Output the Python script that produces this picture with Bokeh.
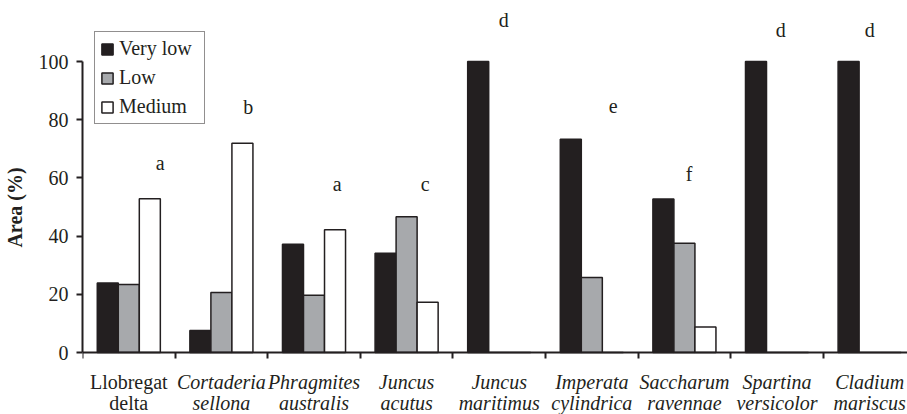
from bokeh.plotting import figure
from bokeh.models import (ColumnDataSource, FixedTicker, Legend, LegendItem,
                          Range1d, LinearAxis)
from bokeh.core.properties import value
from bokeh.embed import file_html
from bokeh.resources import INLINE

# ---- data ----
line1 = ["Llobregat", "Cortaderia", "Phragmites", "Juncus", "Juncus",
         "Imperata", "Saccharum", "Spartina", "Cladium"]
line2 = ["delta", "sellona", "australis", "acutus", "maritimus",
         "cylindrica", "ravennae", "versicolor", "mariscus"]
label_style = ["normal", "italic", "italic", "italic", "italic",
               "italic", "italic", "italic", "italic"]
very_low = [23.9, 7.6, 37.2, 34.1, 100, 73.3, 52.8, 100, 100]
low = [23.4, 20.6, 19.7, 46.7, 0, 25.8, 37.6, 0, 0]
medium = [52.9, 71.9, 42.2, 17.3, 0, 0, 8.8, 0, 0]
letters = ["a", "b", "a", "c", "d", "e", "f", "d", "d"]
letter_y = [62.9, 82.1, 55.5, 55.5, 112.0, 82.2, 59.0, 108.3, 108.3]
letter_dx = [0.34, 0.29, 0.25, 0.20, 0.05, 0.23, 0.05, 0.04, 0.0]
yticks = [0, 20, 40, 60, 80, 100]
series_names = ["Very low", "Low", "Medium"]

FONT = value("Liberation Serif")
FS = "20px"
INK = "#231f20"
GRAY = "#a7a9ac"
TXT_SHIFT = 2.4  # compensates the text glyph baseline rendering offset

n = len(line1)
centers = [i + 0.5 for i in range(n)]
bw = 0.227

p = figure(width=907, height=414, output_backend="svg", toolbar_location=None,
           x_range=Range1d(0, 8.909), y_range=Range1d(-21.3, 121.0),
           x_axis_location=None,
           min_border_left=82, min_border_right=0, min_border_top=0,
           min_border_bottom=0)
p.outline_line_color = None
p.xgrid.visible = False
p.ygrid.visible = False
p.background_fill_color = "white"

src = ColumnDataSource(dict(
    x_vl=[c - bw for c in centers], x_l=centers, x_m=[c + bw for c in centers],
    vl=very_low, l=low, m=medium))

r1 = p.vbar(x="x_vl", top="vl", width=bw, source=src, fill_color=INK,
            line_color=INK, line_width=1.5)
r2 = p.vbar(x="x_l", top="l", width=bw, source=src, fill_color=GRAY,
            line_color=INK, line_width=1.5)
r3 = p.vbar(x="x_m", top="m", width=bw, source=src, fill_color="white",
            line_color=INK, line_width=1.5)

# significance letters
lsrc = ColumnDataSource(dict(x=[c + d for c, d in zip(centers, letter_dx)],
                             y=[v + TXT_SHIFT for v in letter_y], t=letters))
p.text(x="x", y="y", text="t", source=lsrc, text_font=FONT,
       text_font_size=FS, text_color=INK, text_align="center",
       text_baseline="alphabetic")

# category labels (two lines; species names in italic)
csrc = ColumnDataSource(dict(x=centers, y1=[-12.7 + TXT_SHIFT] * n,
                             y2=[-19.6 + TXT_SHIFT] * n,
                             t1=line1, t2=line2, st=label_style))
for yk, tk in (("y1", "t1"), ("y2", "t2")):
    p.text(x="x", y=yk, text=tk, source=csrc, text_font=FONT,
           text_font_size=FS, text_font_style="st", text_color=INK,
           text_align="center", text_baseline="alphabetic")

# x axis at y = 0 with ticks between categories
xa = LinearAxis(fixed_location=0)
xa.ticker = FixedTicker(ticks=list(range(n)))
xa.major_label_overrides = {i: "" for i in range(n)}
xa.major_label_text_font_size = "1px"
xa.major_label_standoff = 0
xa.major_tick_out = 0
xa.major_tick_in = 6
xa.minor_tick_out = 0
xa.minor_tick_in = 0
xa.axis_line_width = 2
xa.axis_line_color = INK
xa.major_tick_line_width = 2
xa.major_tick_line_color = INK
p.add_layout(xa, "above")

ya = p.yaxis[0]
ya.ticker = FixedTicker(ticks=yticks)
ya.bounds = (0, 100)
ya.major_tick_out = 6
ya.major_tick_in = 0
ya.minor_tick_out = 0
ya.minor_tick_in = 0
ya.axis_line_width = 2
ya.axis_line_color = INK
ya.major_tick_line_width = 2
ya.major_tick_line_color = INK
ya.major_label_text_font = "Liberation Serif"
ya.major_label_text_font_size = FS
ya.major_label_text_color = INK
ya.major_label_standoff = 8
ya.axis_label = "Area (%)"
ya.axis_label_text_font = "Liberation Serif"
ya.axis_label_text_font_size = FS
ya.axis_label_text_font_style = "bold"
ya.axis_label_text_color = INK
ya.axis_label_standoff = 10

legend = Legend(items=[LegendItem(label=series_names[0], renderers=[r1]),
                       LegendItem(label=series_names[1], renderers=[r2]),
                       LegendItem(label=series_names[2], renderers=[r3])],
                location=(12, 290))
legend.border_line_color = INK
legend.border_line_width = 1.5
legend.background_fill_color = "white"
legend.background_fill_alpha = 1
legend.padding = 5
legend.margin = 0
legend.spacing = 6
legend.label_height = 23
legend.label_width = 80
legend.glyph_height = 14
legend.glyph_width = 14
legend.label_standoff = 5
legend.label_text_font = "Liberation Serif"
legend.label_text_font_size = FS
legend.label_text_color = INK
p.add_layout(legend)

open("out.html", "w").write(file_html(p, INLINE))
